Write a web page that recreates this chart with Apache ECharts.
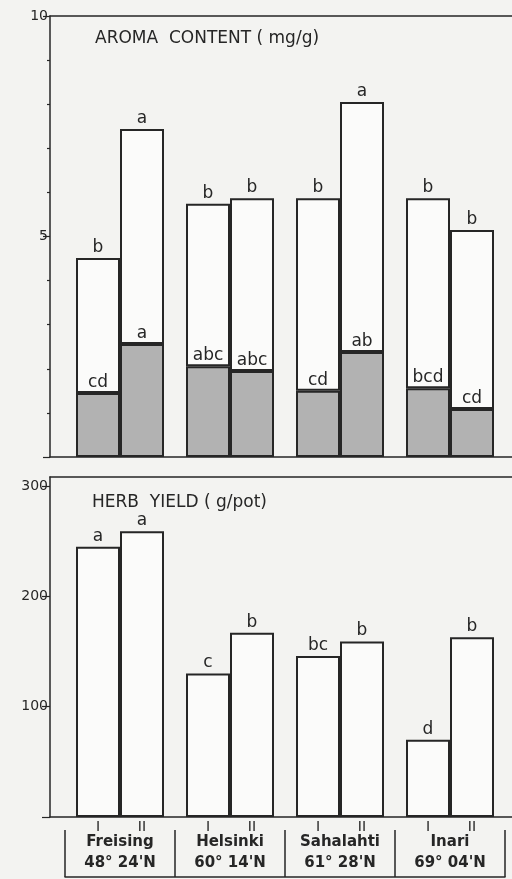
<!DOCTYPE html>
<html>
<head>
<meta charset="utf-8">
<script src="https://cdn.jsdelivr.net/npm/echarts@6/dist/echarts.min.js"></script>
<style>
html,body{margin:0;padding:0;background:#f3f3f1;}
#chart{width:512px;height:879px;}
</style>
</head>
<body>
<div id="chart"></div>
<script>
// ---- data ----
const sites = ['Freising', 'Helsinki', 'Sahalahti', 'Inari'];
const latitudes = ["48° 24'N", "60° 14'N", "61° 28'N", "69° 04'N"];
const treatments = ['I', 'II'];

const aromaTotalI = [4.51, 5.74, 5.87, 5.87];
const aromaTotalII = [7.44, 5.87, 8.05, 5.15];
const aromaShadedI = [1.45, 2.06, 1.50, 1.56];
const aromaShadedII = [2.56, 1.95, 2.38, 1.09];
const aromaTotalLettersI = ['b', 'b', 'b', 'b'];
const aromaTotalLettersII = ['a', 'b', 'a', 'b'];
const aromaShadedLettersI = ['cd', 'abc', 'cd', 'bcd'];
const aromaShadedLettersII = ['a', 'abc', 'ab', 'cd'];

const yieldI = [245, 130, 146, 70];
const yieldII = [259, 167, 159, 163];
const yieldLettersI = ['a', 'c', 'bc', 'd'];
const yieldLettersII = ['a', 'b', 'b', 'b'];

const aromaTickLabels = [5, 10];
const yieldTickLabels = [100, 200, 300];

// ---- styles ----
const INK = '#262626';
const FONT = 'DejaVu Sans';
const SHADE = '#b2b2b2';
const BAR_W = 44;

const chart = echarts.init(document.getElementById('chart'), null, {renderer: 'canvas'});

function frameX(grid, pos) {
  return {type: 'value', gridIndex: grid, min: 0, max: 1, position: pos,
    axisLine: {show: true, lineStyle: {color: INK, width: 1.5}},
    axisTick: {show: false}, axisLabel: {show: false}, splitLine: {show: false}};
}
function frameY(grid) {
  return {type: 'value', gridIndex: grid, min: 0, max: 1,
    axisLine: {show: true, lineStyle: {color: INK, width: 1.5}},
    axisTick: {show: false}, axisLabel: {show: false}, splitLine: {show: false}};
}
function hiddenCat(grid) {
  return {type: 'category', gridIndex: grid, data: sites, show: false};
}
function letterLabel(letters, pos) {
  return {show: true, position: pos || 'top', distance: 2, color: INK,
    fontFamily: FONT, fontSize: 17,
    formatter: p => letters[p.dataIndex]};
}

const upperI = aromaTotalI.map((v, i) => v - aromaShadedI[i]);
const upperII = aromaTotalII.map((v, i) => v - aromaShadedII[i]);

const option = {
  backgroundColor: '#f3f3f1',
  animation: false,
  title: [
    {text: 'AROMA  CONTENT ( mg/g)', left: 90, top: 25,
     textStyle: {fontFamily: FONT, fontWeight: 'normal', fontSize: 17, color: INK}},
    {text: 'HERB  YIELD ( g/pot)', left: 87, top: 489,
     textStyle: {fontFamily: FONT, fontWeight: 'normal', fontSize: 17, color: INK}}
  ],
  grid: [
    {left: 50, right: 0, top: 16, height: 441},
    {left: 65, right: 7, top: 16, height: 441},
    {left: 50, right: 0, top: 477, height: 340},
    {left: 65, right: 7, top: 486, height: 331}
  ],
  xAxis: [
    frameX(0, 'bottom'),
    frameX(0, 'top'),
    hiddenCat(1),
    frameX(2, 'bottom'),
    frameX(2, 'top'),
    hiddenCat(3),
    {type: 'category', gridIndex: 3, data: sites, position: 'bottom', offset: 60,
     axisLine: {show: true, lineStyle: {color: INK, width: 1.5}},
     axisTick: {show: true, inside: true, length: 47, interval: 0, alignWithLabel: false,
                lineStyle: {color: INK, width: 1.5}},
     axisLabel: {show: true, inside: true, margin: 3, interval: 0, color: INK,
                 fontFamily: FONT, fontWeight: 'bold', fontSize: 15, lineHeight: 21,
                 formatter: (v, i) => v + '\n' + latitudes[i]},
     splitLine: {show: false}}
  ],
  yAxis: [
    frameY(0),
    {type: 'value', gridIndex: 1, min: 0, max: 10, interval: 5, offset: 15,
     axisLine: {show: false},
     axisTick: {show: true, length: 7, lineStyle: {color: INK, width: 1.2}},
     minorTick: {show: true, splitNumber: 5, length: 3, lineStyle: {color: INK, width: 1.2}},
     axisLabel: {color: INK, fontFamily: FONT, fontSize: 14, margin: 2,
                 formatter: v => aromaTickLabels.includes(v) ? String(v) : ''},
     splitLine: {show: false}},
    frameY(2),
    {type: 'value', gridIndex: 3, min: 0, max: 300, interval: 100, offset: 15,
     axisLine: {show: false},
     axisTick: {show: true, length: 8, lineStyle: {color: INK, width: 1.2}},
     axisLabel: {color: INK, fontFamily: FONT, fontSize: 14, margin: 2,
                 formatter: v => yieldTickLabels.includes(v) ? String(v) : ''},
     splitLine: {show: false}}
  ],
  series: [
    // aroma content: shaded lower part and white total
    {type: 'bar', name: 'I shaded', xAxisIndex: 2, yAxisIndex: 1, stack: 'aI', z: 3,
     barWidth: BAR_W, barGap: '0%', data: aromaShadedI,
     itemStyle: {color: SHADE, borderColor: INK, borderWidth: 2},
     label: letterLabel(aromaShadedLettersI)},
    {type: 'bar', name: 'I total', xAxisIndex: 2, yAxisIndex: 1, stack: 'aI',
     barWidth: BAR_W, barGap: '0%', data: upperI,
     itemStyle: {color: '#fbfbfa', borderColor: INK, borderWidth: 2},
     label: letterLabel(aromaTotalLettersI)},
    {type: 'bar', name: 'II shaded', xAxisIndex: 2, yAxisIndex: 1, stack: 'aII', z: 3,
     barWidth: BAR_W, barGap: '0%', data: aromaShadedII,
     itemStyle: {color: SHADE, borderColor: INK, borderWidth: 2},
     label: letterLabel(aromaShadedLettersII)},
    {type: 'bar', name: 'II total', xAxisIndex: 2, yAxisIndex: 1, stack: 'aII',
     barWidth: BAR_W, barGap: '0%', data: upperII,
     itemStyle: {color: '#fbfbfa', borderColor: INK, borderWidth: 2},
     label: letterLabel(aromaTotalLettersII)},
    // herb yield: treatment labels under the axis (zero-height carriers)
    {type: 'bar', name: 'I label', xAxisIndex: 5, yAxisIndex: 3, stack: 'yI',
     barWidth: BAR_W, barGap: '0%', data: sites.map(() => 0),
     itemStyle: {color: 'rgba(0,0,0,0)', borderWidth: 0},
     label: {show: true, position: 'bottom', distance: 3, color: INK, fontFamily: FONT,
             fontSize: 14, formatter: () => treatments[0]}},
    {type: 'bar', name: 'I', xAxisIndex: 5, yAxisIndex: 3, stack: 'yI',
     barWidth: BAR_W, barGap: '0%', data: yieldI,
     itemStyle: {color: '#fbfbfa', borderColor: INK, borderWidth: 2},
     label: letterLabel(yieldLettersI)},
    {type: 'bar', name: 'II label', xAxisIndex: 5, yAxisIndex: 3, stack: 'yII',
     barWidth: BAR_W, barGap: '0%', data: sites.map(() => 0),
     itemStyle: {color: 'rgba(0,0,0,0)', borderWidth: 0},
     label: {show: true, position: 'bottom', distance: 3, color: INK, fontFamily: FONT,
             fontSize: 14, formatter: () => treatments[1]}},
    {type: 'bar', name: 'II', xAxisIndex: 5, yAxisIndex: 3, stack: 'yII',
     barWidth: BAR_W, barGap: '0%', data: yieldII,
     itemStyle: {color: '#fbfbfa', borderColor: INK, borderWidth: 2},
     label: letterLabel(yieldLettersII)}
  ]
};
chart.setOption(option);
</script>
</body>
</html>
